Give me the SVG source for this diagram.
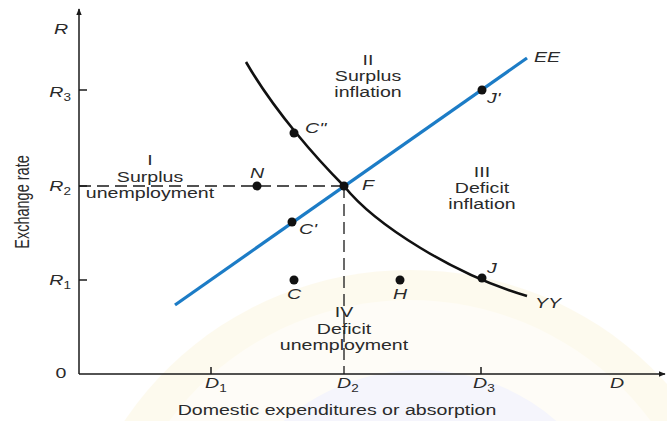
<svg xmlns="http://www.w3.org/2000/svg" width="667" height="421" viewBox="0 0 667 421">
  <style>
    text { font-family: "Liberation Sans", Arial, sans-serif; font-size: 14.5px; fill: #2a2a2a; }
    .it { font-style: italic; }
    .mid { text-anchor: middle; }
    .end { text-anchor: end; }
    .axis { stroke: #1a1a1a; stroke-width: 1.5; fill: none; }
    .dash { stroke: #1a1a1a; stroke-width: 1.3; stroke-dasharray: 12 6; fill: none; }
    .ee { stroke: #1c7cc6; stroke-width: 3.2; fill: none; stroke-linecap: butt; }
    .yy { stroke: #111; stroke-width: 2.6; fill: none; }
    .dot { fill: #111; }
  </style>
  <defs>
    <marker id="arr" viewBox="0 0 10 10" refX="9" refY="5" markerWidth="7" markerHeight="7" orient="auto" markerUnits="userSpaceOnUse">
      <path d="M0,1 L10,5 L0,9 Z" fill="#1a1a1a"/>
    </marker>
  </defs>
  <rect width="667" height="421" fill="#ffffff"/>
  <g id="watermark" opacity="0.28">
    <ellipse cx="410" cy="600" rx="340" ry="330" fill="#fbefc6"/>
    <ellipse cx="410" cy="600" rx="300" ry="300" fill="#ffffff" opacity="0.5"/>
    <ellipse cx="420" cy="560" rx="200" ry="190" fill="#dcdcf6"/>
  </g>

  <g id="axes">
    <line class="axis" x1="79" y1="374" x2="79" y2="9" marker-end="url(#arr)"/>
    <line class="axis" x1="79" y1="374" x2="665" y2="374" marker-end="url(#arr)"/>
    <line class="axis" x1="79" y1="90" x2="87" y2="90"/>
    <line class="axis" x1="79" y1="186" x2="87" y2="186"/>
    <line class="axis" x1="79" y1="280" x2="87" y2="280"/>
    <line class="axis" x1="211" y1="374" x2="211" y2="367"/>
    <line class="axis" x1="481" y1="374" x2="481" y2="367"/>
    <text class="it mid" transform="translate(61,34) scale(1.35,1)">R</text>
    <text class="it end" transform="translate(71,97) scale(1.35,1)">R<tspan font-size="10" dy="4" font-style="normal">3</tspan></text>
    <text class="it end" transform="translate(71,191) scale(1.35,1)">R<tspan font-size="10" dy="4" font-style="normal">2</tspan></text>
    <text class="it end" transform="translate(71,285) scale(1.35,1)">R<tspan font-size="10" dy="4" font-style="normal">1</tspan></text>
    <text class="mid" transform="translate(61,378) scale(1.35,1)">0</text>
    <text class="it" transform="translate(205,388) scale(1.35,1)">D<tspan font-size="10" dy="4" font-style="normal">1</tspan></text>
    <text class="it" transform="translate(337,388) scale(1.35,1)">D<tspan font-size="10" dy="4" font-style="normal">2</tspan></text>
    <text class="it" transform="translate(473,388) scale(1.35,1)">D<tspan font-size="10" dy="4" font-style="normal">3</tspan></text>
    <text class="it" transform="translate(610,388) scale(1.35,1)">D</text>
    <text class="mid" transform="translate(337,415) scale(1.35,1)">Domestic expenditures or absorption</text>
    <text class="mid" transform="translate(29,202) scale(1.35,1) rotate(-90)">Exchange rate</text>
  </g>

  <g id="connectors">
    <line class="dash" x1="79" y1="186" x2="344" y2="186"/>
    <line class="dash" x1="344" y1="186" x2="344" y2="374"/>
    <line class="ee" x1="175" y1="305" x2="527" y2="58"/>
    <path class="yy" d="M246,62 C275,112 318,160 344,186 C375,225 455,275 527,296"/>
  </g>

  <g id="curve-labels">
    <text class="it" transform="translate(534,62) scale(1.35,1)">EE</text>
    <text class="it" transform="translate(535,308) scale(1.35,1)">YY</text>
  </g>

  <g id="region-I">
    <text class="mid" transform="translate(150,165) scale(1.35,1)">I</text>
    <text class="mid" transform="translate(150,182) scale(1.35,1)">Surplus</text>
    <text class="mid" transform="translate(150,198) scale(1.35,1)">unemployment</text>
  </g>
  <g id="region-II">
    <text class="mid" transform="translate(368,65) scale(1.35,1)">II</text>
    <text class="mid" transform="translate(368,81) scale(1.35,1)">Surplus</text>
    <text class="mid" transform="translate(368,97) scale(1.35,1)">inflation</text>
  </g>
  <g id="region-III">
    <text class="mid" transform="translate(482,177) scale(1.35,1)">III</text>
    <text class="mid" transform="translate(482,193) scale(1.35,1)">Deficit</text>
    <text class="mid" transform="translate(482,209) scale(1.35,1)">inflation</text>
  </g>
  <g id="region-IV">
    <text class="mid" transform="translate(344,317) scale(1.35,1)">IV</text>
    <text class="mid" transform="translate(344,334) scale(1.35,1)">Deficit</text>
    <text class="mid" transform="translate(344,350) scale(1.35,1)">unemployment</text>
  </g>

  <g id="point-Cpp"><circle class="dot" cx="294" cy="133" r="4.5"/><text class="it" transform="translate(305,133) scale(1.35,1)">C''</text></g>
  <g id="point-N"><circle class="dot" cx="257" cy="186" r="4.5"/><text class="it mid" transform="translate(257,178) scale(1.35,1)">N</text></g>
  <g id="point-F"><circle class="dot" cx="344" cy="186" r="4.5"/><text class="it" transform="translate(362,190) scale(1.35,1)">F</text></g>
  <g id="point-Cp"><circle class="dot" cx="292" cy="222" r="4.5"/><text class="it" transform="translate(299,234) scale(1.35,1)">C'</text></g>
  <g id="point-C"><circle class="dot" cx="294" cy="280" r="4.5"/><text class="it mid" transform="translate(294,299) scale(1.35,1)">C</text></g>
  <g id="point-H"><circle class="dot" cx="400" cy="280" r="4.5"/><text class="it mid" transform="translate(400,299) scale(1.35,1)">H</text></g>
  <g id="point-J"><circle class="dot" cx="482" cy="278" r="4.5"/><text class="it" transform="translate(487,273) scale(1.35,1)">J</text></g>
  <g id="point-Jp"><circle class="dot" cx="482" cy="90" r="4.5"/><text class="it" transform="translate(487,103) scale(1.35,1)">J'</text></g>
</svg>
